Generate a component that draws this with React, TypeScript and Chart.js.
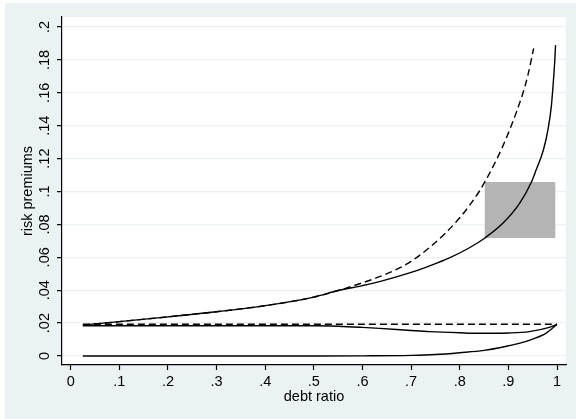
import React, { useEffect, useRef } from "react";
import { Chart, registerables } from "chart.js";
Chart.register(...registerables);

const xTickValues = [0, 0.1, 0.2, 0.3, 0.4, 0.5, 0.6, 0.7, 0.8, 0.9, 1];
const xTickLabels = ["0", ".1", ".2", ".3", ".4", ".5", ".6", ".7", ".8", ".9", "1"];
const yTickValues = [0, 0.02, 0.04, 0.06, 0.08, 0.1, 0.12, 0.14, 0.16, 0.18, 0.2];
const yTickLabels = ["0", ".02", ".04", ".06", ".08", ".1", ".12", ".14", ".16", ".18", ".2"];

const upperSolidX = [0.025, 0.1, 0.2, 0.3, 0.4, 0.5, 0.55, 0.6, 0.635, 0.7, 0.738, 0.78, 0.82, 0.851, 0.888, 0.923, 0.947, 0.957, 0.972, 0.982, 0.988, 0.992, 0.9955, 0.997];
const upperSolidY = [0.0188, 0.0209, 0.0238, 0.0269, 0.0306, 0.0358, 0.0398, 0.0428, 0.0452, 0.0508, 0.0548, 0.0598, 0.0658, 0.0716, 0.0805, 0.0928, 0.1055, 0.113, 0.1252, 0.1386, 0.1508, 0.1647, 0.1799, 0.189];

const upperDashedX = [0.025, 0.1, 0.2, 0.3, 0.4, 0.5, 0.55, 0.6, 0.635, 0.676, 0.7, 0.738, 0.77, 0.8, 0.82, 0.84, 0.851, 0.87, 0.887, 0.906, 0.929, 0.94, 0.952];
const upperDashedY = [0.0188, 0.0209, 0.0238, 0.0269, 0.0306, 0.0358, 0.0398, 0.0445, 0.0482, 0.0535, 0.0575, 0.066, 0.0745, 0.084, 0.0915, 0.1, 0.1055, 0.116, 0.1265, 0.14, 0.159, 0.1705, 0.187];

const flatDashedX = [0.025, 1.0];
const flatDashedY = [0.0193, 0.0193];

const middleSolidX = [0.025, 0.5, 0.55, 0.6, 0.635, 0.7, 0.738, 0.8, 0.84, 0.9, 0.943, 0.984, 1.0];
const middleSolidY = [0.0184, 0.0184, 0.0181, 0.0174, 0.0168, 0.0155, 0.0148, 0.0141, 0.0138, 0.014, 0.0148, 0.0174, 0.0192];

const bottomSolidX = [0.025, 0.5, 0.6, 0.7, 0.75, 0.8, 0.85, 0.9, 0.922, 0.95, 0.977, 1.0];
const bottomSolidY = [0, 0, 0.0001, 0.0004, 0.0009, 0.002, 0.0034, 0.0062, 0.0077, 0.0103, 0.0138, 0.0192];

const bandX = [0.851, 0.997];
const bandLow = [0.0717, 0.0717];
const bandHigh = [0.1058, 0.1058];

const FONT = '"Liberation Sans", Arial, Helvetica, sans-serif';
const BG = "#EAF2F3";

const pts = (xs: number[], ys: number[]) => xs.map((x, i) => ({ x, y: ys[i] }));

export default function App() {
  const ref = useRef<HTMLCanvasElement | null>(null);
  useEffect(() => {
    if (!ref.current) return;
    const lineBase = {
      pointRadius: 0,
      borderColor: "#000",
      borderWidth: 1.4,
      cubicInterpolationMode: "monotone" as const,
      fill: false,
    };
    const plotBg = {
      id: "plotBg",
      beforeDraw(chart: any) {
        const { ctx, chartArea } = chart;
        ctx.save();
        ctx.fillStyle = "#fff";
        ctx.fillRect(chartArea.left, chartArea.top, chartArea.right - chartArea.left, chartArea.bottom - chartArea.top);
        ctx.restore();
      },
    };
    const chart = new Chart(ref.current, {
      type: "line",
      data: {
        datasets: [
          { ...lineBase, data: pts(upperSolidX, upperSolidY) },
          { ...lineBase, data: pts(upperDashedX, upperDashedY), borderDash: [7, 4] },
          { ...lineBase, data: pts(flatDashedX, flatDashedY), borderDash: [7, 4] },
          { ...lineBase, data: pts(middleSolidX, middleSolidY) },
          { ...lineBase, data: pts(bottomSolidX, bottomSolidY) },
          {
            data: pts(bandX, bandHigh),
            pointRadius: 0,
            borderWidth: 0,
            borderColor: "rgba(0,0,0,0)",
            backgroundColor: "#B4B4B4",
            fill: "+1",
          },
          {
            data: pts(bandX, bandLow),
            pointRadius: 0,
            borderWidth: 0,
            borderColor: "rgba(0,0,0,0)",
            fill: false,
          },
        ],
      },
      options: {
        responsive: false,
        animation: false,
        devicePixelRatio: 1,
        layout: { padding: { left: 0, top: 14, right: 10, bottom: 0 } },
        plugins: { legend: { display: false }, tooltip: { enabled: false } },
        scales: {
          x: {
            type: "linear",
            min: -0.0179,
            max: 1.0185,
            afterBuildTicks: (s: any) => {
              s.ticks = xTickValues.map((v) => ({ value: v }));
            },
            afterFit: (s: any) => {
              s.height = 54;
            },
            ticks: {
              autoSkip: false,
              maxRotation: 0,
              minRotation: 0,
              color: "#000",
              padding: 3,
              font: { family: FONT, size: 14.5 },
              callback: (_v: any, i: number) => xTickLabels[i],
            },
            grid: {
              drawOnChartArea: false,
              drawTicks: true,
              tickLength: 5,
              tickColor: "#000",
              tickWidth: 1.2,
            },
            border: { display: true, color: "#000", width: 1.2 },
            title: {
              display: true,
              text: "debt ratio",
              color: "#000",
              font: { family: FONT, size: 14.5 },
              padding: { top: 0, bottom: 13 },
            },
          },
          y: {
            type: "linear",
            min: -0.00547,
            max: 0.20608,
            afterBuildTicks: (s: any) => {
              s.ticks = yTickValues.map((v) => ({ value: v }));
            },
            afterFit: (s: any) => {
              s.width = 57;
            },
            ticks: {
              autoSkip: false,
              minRotation: 90,
              maxRotation: 90,
              crossAlign: "center",
              color: "#000",
              padding: 2,
              font: { family: FONT, size: 14.5 },
              callback: (_v: any, i: number) => yTickLabels[i],
            },
            grid: {
              drawOnChartArea: true,
              color: BG,
              lineWidth: 1.3,
              drawTicks: true,
              tickLength: 5,
              tickColor: "#000",
              tickWidth: 1.2,
            },
            border: { display: true, color: "#000", width: 1.2 },
            title: {
              display: true,
              text: "risk premiums",
              color: "#000",
              font: { family: FONT, size: 14.5 },
              padding: { top: 14, bottom: 0 },
            },
          },
        },
      },
      plugins: [plotBg],
    } as any);
    return () => chart.destroy();
  }, []);

  return (
    <div style={{ position: "fixed", left: 0, top: 0, width: 576, height: 419, background: "#fff" }}>
      <canvas
        ref={ref}
        width={571}
        height={416}
        style={{ position: "absolute", left: 5, top: 3, width: 571, height: 416, background: BG }}
      />
    </div>
  );
}
